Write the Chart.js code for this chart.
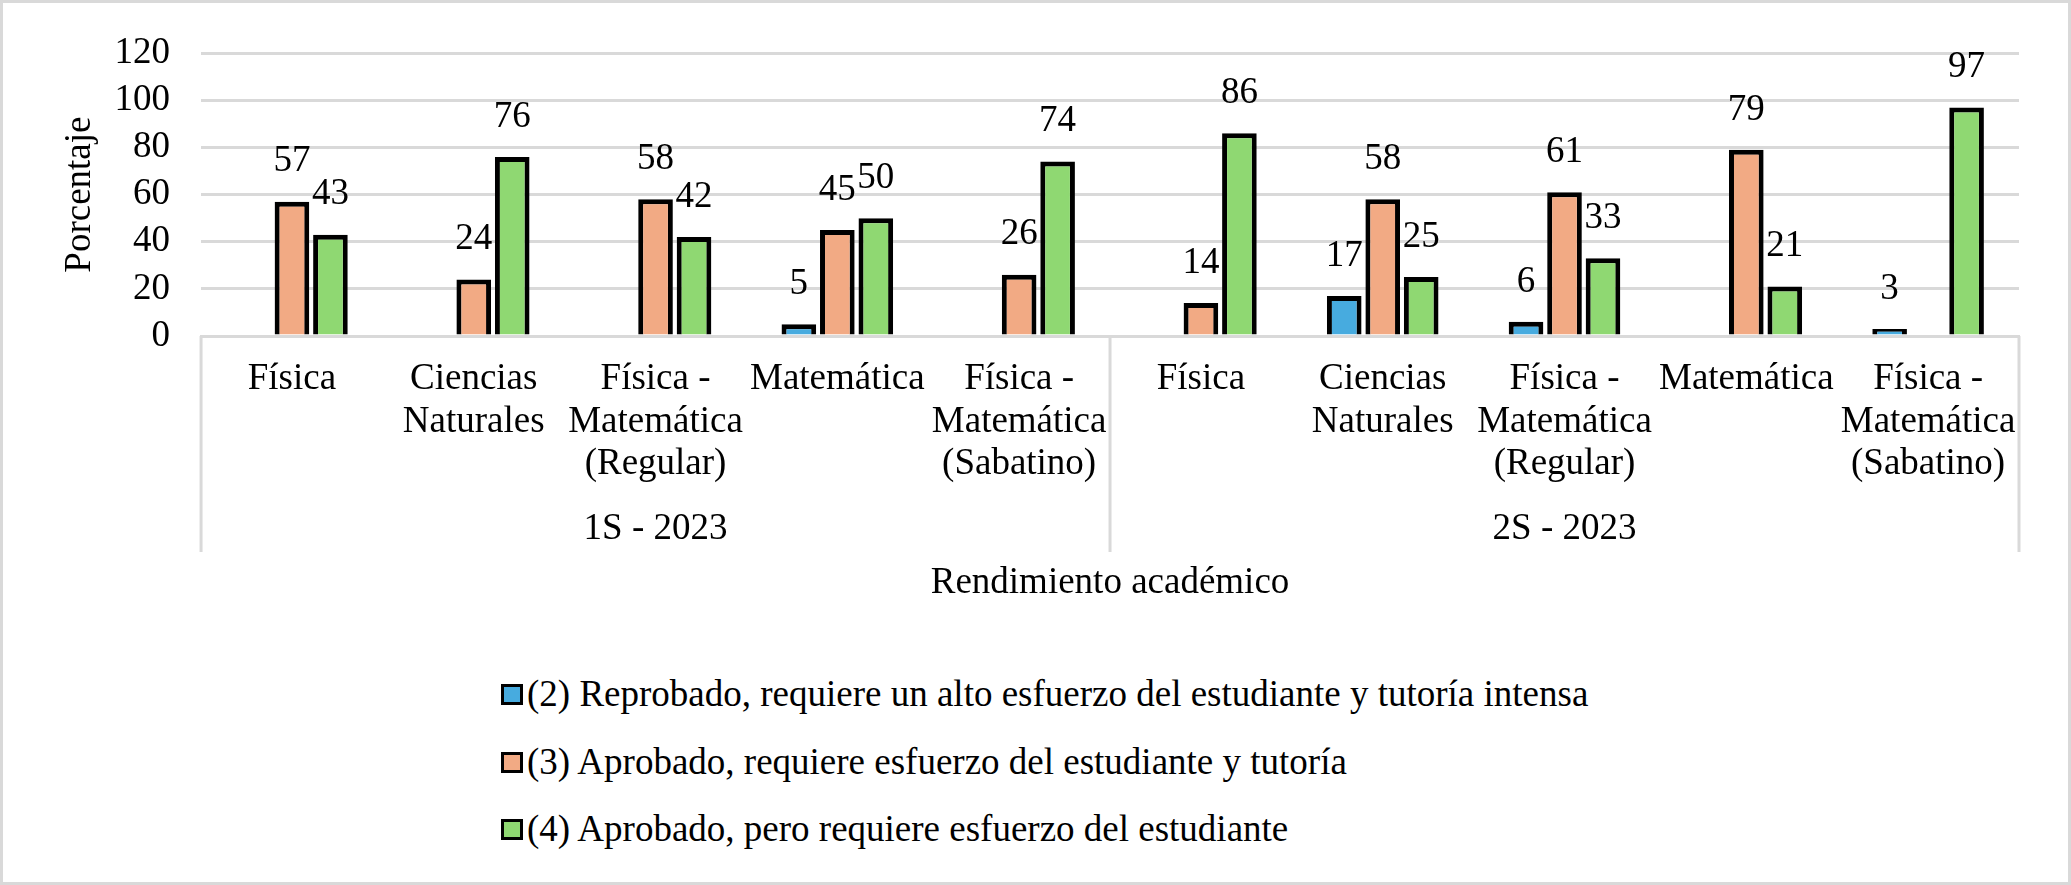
<!DOCTYPE html>
<html lang="es">
<head>
  <meta charset="UTF-8" />
  <title>Rendimiento académico</title>
  <style>
    body {
      margin: 0;
      background: #fff;
      font-family: "Liberation Serif", "Times New Roman", serif;
    }
    #frame {
      position: relative;
      width: 2071px;
      height: 885px;
      box-sizing: border-box;
      border: 3px solid #d9d9d9;
      overflow: hidden;
    }
    #chartBox {
      position: absolute;
      left: -3px;
      top: -3px;
      width: 2071px;
      height: 620px;
    }
    #legend {
      position: absolute;
      left: 498px;
      top: 657px;
    }
    .item {
      height: 67.5px;
      display: flex;
      align-items: center;
      font-size: 37px;
      color: #000;
      line-height: 1;
    }
    .box {
      width: 16px;
      height: 15px;
      border: 3px solid #000;
      margin-right: 4px;
      margin-top: 2px;
    }
  </style>
</head>
<body>
  <div id="frame">
    <div id="chartBox"><canvas id="chart"></canvas></div>
    <div id="legend"></div>
  </div>

  <script src="https://cdn.jsdelivr.net/npm/chart.js"></script>
  <script>
    // categories (two semesters, five courses each)
    const courses = [
      ['Física'],
      ['Ciencias', 'Naturales'],
      ['Física -', 'Matemática', '(Regular)'],
      ['Matemática'],
      ['Física -', 'Matemática', '(Sabatino)'],
      ['Física'],
      ['Ciencias', 'Naturales'],
      ['Física -', 'Matemática', '(Regular)'],
      ['Matemática'],
      ['Física -', 'Matemática', '(Sabatino)']
    ];
    const semesters = ['1S - 2023', '2S - 2023'];
    const coursesPerSemester = 5;

    const seriesNames = [
      '(2) Reprobado, requiere un alto esfuerzo del estudiante y tutoría intensa',
      '(3) Aprobado, requiere esfuerzo del estudiante y tutoría',
      '(4) Aprobado, pero requiere esfuerzo del estudiante'
    ];
    const reprobado = [null, null, null, 5, null, null, 17, 6, null, 3];
    const aprobadoTutoria = [57, 24, 58, 45, 26, 14, 58, 61, 79, null];
    const aprobadoEsfuerzo = [43, 76, 42, 50, 74, 86, 25, 33, 21, 97];
    const colors = ['#47abdf', '#f2aa84', '#8fd872'];

    const yMax = 120;
    const yStep = 20;

    const serif = 'Liberation Serif';

    // value labels above each bar
    const valueLabels = {
      id: 'valueLabels',
      afterDatasetsDraw(chart) {
        const ctx = chart.ctx;
        ctx.save();
        ctx.font = '37px "' + serif + '"';
        ctx.fillStyle = '#000';
        ctx.textAlign = 'center';
        ctx.textBaseline = 'middle';
        chart.data.datasets.forEach((ds, i) => {
          chart.getDatasetMeta(i).data.forEach((bar, j) => {
            if (ds.data[j] == null) return;
            ctx.fillText(ds.data[j], bar.x, bar.y - 40);
          });
        });
        ctx.restore();
      }
    };

    // semester labels and separators under the category labels
    const groupAxis = {
      id: 'groupAxis',
      afterDraw(chart) {
        const ctx = chart.ctx;
        const x = chart.scales.x;
        const area = chart.chartArea;
        const step = (x.right - x.left) / courses.length;
        ctx.save();
        ctx.strokeStyle = '#d9d9d9';
        ctx.lineWidth = 3;
        for (let g = 0; g <= semesters.length; g++) {
          const px = x.left + g * coursesPerSemester * step;
          ctx.beginPath();
          ctx.moveTo(px, area.bottom);
          ctx.lineTo(px, area.bottom + 216);
          ctx.stroke();
        }
        ctx.font = '37px "' + serif + '"';
        ctx.fillStyle = '#000';
        ctx.textAlign = 'center';
        ctx.textBaseline = 'middle';
        semesters.forEach((s, g) => {
          const cx = x.left + (g + 0.5) * coursesPerSemester * step;
          ctx.fillText(s, cx, area.bottom + 193);
        });
        ctx.restore();
      }
    };

    const ctx = document.getElementById('chart').getContext('2d');
    const chart = new Chart(ctx, {
      type: 'bar',
      data: {
        labels: courses,
        datasets: [
          { label: seriesNames[0], data: reprobado },
          { label: seriesNames[1], data: aprobadoTutoria },
          { label: seriesNames[2], data: aprobadoEsfuerzo }
        ].map((ds, i) => Object.assign(ds, {
          backgroundColor: colors[i],
          borderColor: '#000',
          borderWidth: 5,
          categoryPercentage: 0.635,
          barPercentage: 0.9
        }))
      },
      options: {
        responsive: true,
        maintainAspectRatio: false,
        animation: false,
        layout: { padding: { top: 52, left: 59, right: 52, bottom: 0 } },
        plugins: {
          legend: { display: false },
          tooltip: { enabled: false }
        },
        scales: {
          x: {
            grid: { display: false, drawTicks: false },
            border: { display: true, color: '#d9d9d9', width: 3 },
            ticks: {
              color: '#000',
              font: { family: serif, size: 37, lineHeight: 1.15 },
              padding: 22,
              maxRotation: 0,
              autoSkip: false
            },
            title: {
              display: true,
              text: 'Rendimiento académico',
              color: '#000',
              font: { family: serif, size: 37, lineHeight: 1.15 },
              padding: { top: 75, bottom: 15 }
            }
          },
          y: {
            min: 0,
            max: yMax,
            grid: { color: '#d9d9d9', lineWidth: 3, drawTicks: false },
            border: { display: false },
            ticks: {
              stepSize: yStep,
              autoSkip: false,
              color: '#000',
              font: { family: serif, size: 37 },
              padding: 31
            },
            title: {
              display: true,
              text: 'Porcentaje',
              color: '#000',
              font: { family: serif, size: 37, lineHeight: 1.15 },
              padding: { top: 0, bottom: -18 }
            }
          }
        }
      },
      plugins: [valueLabels, groupAxis]
    });

    // legend: one entry per line, as in the original
    const legend = document.getElementById('legend');
    seriesNames.forEach((name, i) => {
      const row = document.createElement('div');
      row.className = 'item';
      const box = document.createElement('span');
      box.className = 'box';
      box.style.background = colors[i];
      row.appendChild(box);
      row.appendChild(document.createTextNode(name));
      legend.appendChild(row);
    });
  </script>
</body>
</html>
